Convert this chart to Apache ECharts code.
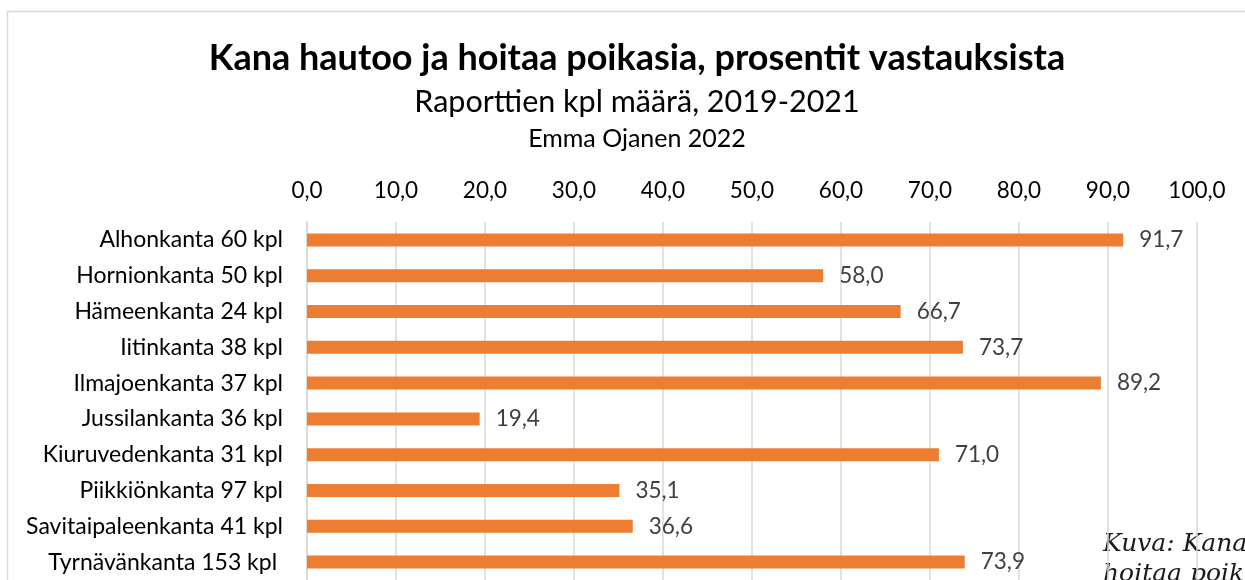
<!DOCTYPE html>
<html>
<head>
<meta charset="utf-8">
<script src="https://cdn.jsdelivr.net/npm/echarts@6/dist/echarts.min.js"></script>
<style>
    html, body { margin: 0; padding: 0; background: #fff; }
    #main { width: 1245px; height: 580px; }
</style>
</head>
<body>
<div id="main"></div>
<script>
// kanat ja raporttien määrä
const categories = [
    "Alhonkanta 60 kpl",
    "Hornionkanta 50 kpl",
    "Hämeenkanta 24 kpl",
    "Iitinkanta 38 kpl",
    "Ilmajoenkanta 37 kpl",
    "Jussilankanta 36 kpl",
    "Kiuruvedenkanta 31 kpl",
    "Piikkiönkanta 97 kpl",
    "Savitaipaleenkanta 41 kpl",
    "Tyrnävänkanta 153 kpl ",
];
const percents = [91.7, 58.0, 66.7, 73.7, 89.2, 19.4, 71.0, 35.1, 36.6, 73.9];
const tickValues = [0, 10, 20, 30, 40, 50, 60, 70, 80, 90, 100];

const fontFamily = "Lato, 'Open Sans', sans-serif";
const fmt = v => Number(v).toFixed(1).replace(".", ",");

const myChart = echarts.init(document.getElementById("main"));

const option = {
    backgroundColor: "#fff",
    animation: false,
    title: [
        {
            text: "Kana hautoo ja hoitaa poikasia, prosentit vastauksista",
            left: 632,
            top: 35,
            textAlign: "center",
            textStyle: { color: "#000", fontSize: 36, fontWeight: "bold", fontFamily },
        },
        {
            text: "Raporttien kpl määrä, 2019-2021",
            left: 632,
            top: 82,
            textAlign: "center",
            textStyle: { color: "#000", fontSize: 30.5, fontWeight: "normal", fontFamily },
        },
        {
            text: "Emma Ojanen 2022",
            left: 632,
            top: 121,
            textAlign: "center",
            textStyle: { color: "#000", fontSize: 25, fontWeight: "normal", fontFamily },
        },
    ],
    grid: {
        left: 307,
        right: 48,
        top: 222,
        bottom: -5,
        containLabel: false,
    },
    xAxis: {
        type: "value",
        position: "top",
        min: 0,
        max: 100,
        interval: 10,
        axisLine: { show: false },
        axisTick: { show: false },
        splitLine: { show: true, lineStyle: { color: "#d9d9d9", width: 1.5 } },
        axisLabel: {
            margin: 20,
            color: "#000",
            fontSize: 22.5,
            fontFamily,
            formatter: v => (tickValues.includes(v) ? fmt(v) : ""),
        },
    },
    yAxis: {
        type: "category",
        inverse: true,
        data: categories,
        axisLine: { show: true, lineStyle: { color: "#d9d9d9", width: 1.5 } },
        axisTick: { show: false },
        axisLabel: {
            margin: 24,
            color: "#000",
            fontSize: 23,
            fontFamily,
        },
    },
    series: [
        {
            type: "bar",
            data: percents,
            barWidth: 13,
            itemStyle: { color: "#ed7d31" },
            label: {
                show: true,
                position: "right",
                distance: 16,
                color: "#404040",
                fontSize: 22.5,
                fontFamily,
                formatter: p => fmt(p.value),
            },
        },
    ],
    graphic: [
        {
            type: "rect",
            silent: true,
            shape: { x: 7.5, y: 11.5, width: 1300, height: 700 },
            style: { fill: "none", stroke: "#d9d9d9", lineWidth: 1.5 },
        },
        {
            type: "text",
            left: 1103,
            top: 529,
            silent: true,
            style: {
                text: "Kuva: Kana\nhoitaa poikasia",
                fill: "#1a1a1a",
                font: "italic 25px 'DejaVu Serif', 'Liberation Serif', serif",
                lineHeight: 30,
            },
        },
    ],
};

myChart.setOption(option);
</script>
</body>
</html>
